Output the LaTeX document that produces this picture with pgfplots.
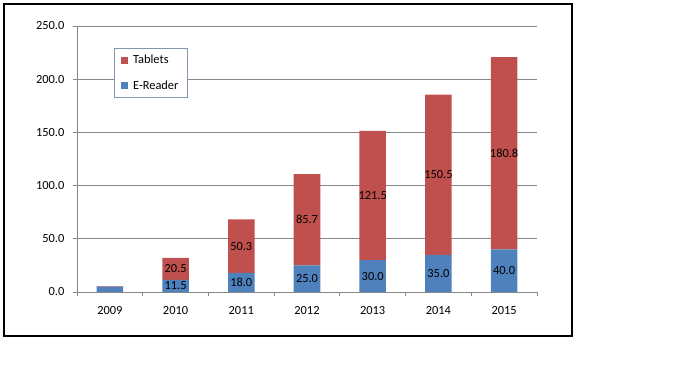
\documentclass[border=0pt]{standalone}
\usepackage{fontspec}
\setmainfont{Carlito}
\usepackage{pgfplots}
\pgfplotsset{compat=1.18}
\definecolor{tabred}{HTML}{C0504D}
\definecolor{erblue}{HTML}{4F81BD}
\definecolor{gridgray}{HTML}{868686}
\definecolor{legborder}{HTML}{8497B0}
\begin{document}
\begin{tikzpicture}
\path (0pt,0pt) rectangle (512.25pt,288pt);
\draw[black, line width=0.9pt] (3pt,36pt) rectangle (429pt,285pt);
\begin{axis}[
  at={(57.75pt,69pt)}, anchor=south west,
  scale only axis, width=345pt, height=199.5pt,
  ybar stacked, bar width=19.9pt,
  xmin=-0.5, xmax=6.5, ymin=0, ymax=250,
  xtick={0,...,6}, xticklabels={2009,2010,2011,2012,2013,2014,2015},
  major x tick style={draw=none},
  minor xtick={-0.5,0.5,...,6.5},
  ytick={0,50,...,250},
  yticklabel style={/pgf/number format/fixed, /pgf/number format/fixed zerofill, /pgf/number format/precision=1, /pgf/number format/assume math mode=true, xshift=-3pt},
  ymajorgrids, grid style={gridgray, line width=0.6pt},
  axis x line*=bottom, axis y line*=left,
  axis line style={-, gridgray, line width=0.6pt},
  tick style={gridgray, line width=0.6pt},
  tick align=outside,
  major tick length=3pt, minor tick length=3pt,
  tick label style={font=\fontsize{9.3}{11}\selectfont, text=black},
  xticklabel style={yshift=-4pt},
  legend style={at={(0.08,0.917)}, anchor=north west, draw=legborder, line width=0.6pt,
    font=\fontsize{9.3}{11}\selectfont, row sep=7pt, inner xsep=5pt, inner ysep=3pt,
    /tikz/every odd column/.append style={column sep=2pt}},
  legend cell align=left, reverse legend,
  legend image code/.code={\fill[#1] (0pt,-2.6pt) rectangle (5.2pt,2.6pt);},
  visualization depends on=rawy \as \rawy,
  nodes near coords={\pgfmathtruncatemacro{\showlab}{\rawy>6}\ifnum\showlab=1 \pgfmathprintnumber[fixed,fixed zerofill,precision=1,assume math mode=true]{\rawy}\fi},
  every node near coord/.append style={anchor=center, font=\fontsize{9.3}{11}\selectfont, text=black},
]
\addplot[fill=erblue, draw=none] coordinates {(0,5.0) (1,11.5) (2,18.0) (3,25.0) (4,30.0) (5,35.0) (6,40.0)};
\addlegendentry{E-Reader}
\addplot[fill=tabred, draw=none] coordinates {(0,0.6) (1,20.5) (2,50.3) (3,85.7) (4,121.5) (5,150.5) (6,180.8)};
\addlegendentry{Tablets}
\end{axis}
\end{tikzpicture}
\end{document}
